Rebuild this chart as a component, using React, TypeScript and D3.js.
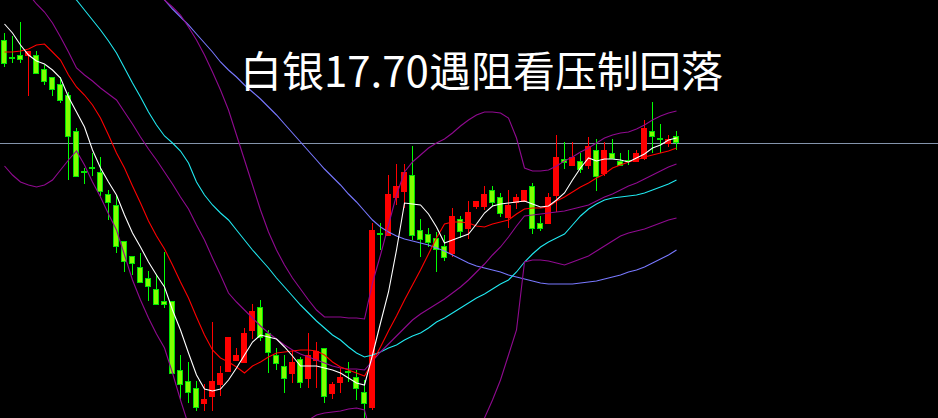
import { useEffect, useRef } from 'react'
import * as d3 from 'd3'

const WIDTH = 938
const HEIGHT = 418
const TITLE = '白银17.70遇阻看压制回落'
const RESISTANCE = 17.7

// daily candles: [open, high, low, close]
const OHLC: [number, number, number, number][] = [
  [18.72, 18.79, 18.45, 18.49], [18.55, 18.76, 18.49, 18.54], [18.57, 18.90, 18.49, 18.53], [18.57, 18.61, 18.16, 18.61],
  [18.57, 18.61, 18.38, 18.39], [18.43, 18.47, 18.27, 18.31], [18.35, 18.35, 18.16, 18.23], [18.28, 18.35, 18.09, 18.12],
  [18.17, 18.20, 17.32, 17.76], [17.81, 17.84, 17.36, 17.36], [17.41, 17.44, 17.28, 17.40], [17.45, 17.59, 17.36, 17.44],
  [17.40, 17.55, 17.16, 17.21], [17.18, 17.22, 16.92, 17.10], [17.07, 17.17, 16.59, 16.66], [16.71, 16.71, 16.40, 16.51],
  [16.56, 16.56, 16.37, 16.49], [16.45, 16.59, 16.30, 16.30], [16.34, 16.41, 16.11, 16.26], [16.23, 16.38, 16.08, 16.08],
  [16.11, 16.60, 16.04, 16.08], [16.11, 16.11, 15.39, 15.39], [15.42, 15.57, 15.13, 15.28], [15.31, 15.50, 15.09, 15.20],
  [15.24, 15.31, 15.01, 15.05], [15.09, 15.28, 15.01, 15.13], [15.16, 15.90, 15.01, 15.31], [15.28, 15.46, 15.16, 15.39],
  [15.41, 15.75, 15.41, 15.75], [15.52, 15.64, 15.52, 15.57], [15.50, 15.84, 15.49, 15.79], [15.82, 16.08, 15.73, 16.01],
  [16.05, 16.12, 15.71, 15.75], [15.79, 15.82, 15.39, 15.60], [15.57, 15.64, 15.42, 15.49], [15.46, 15.57, 15.19, 15.34],
  [15.39, 15.62, 15.29, 15.50], [15.53, 15.55, 15.24, 15.30], [15.34, 15.79, 15.24, 15.57], [15.52, 15.70, 15.24, 15.61],
  [15.64, 15.64, 15.09, 15.16], [15.19, 15.30, 15.13, 15.28], [15.30, 15.44, 15.19, 15.35], [15.41, 15.50, 15.30, 15.40],
  [15.35, 15.42, 15.12, 15.24], [15.20, 15.32, 14.94, 15.09], [15.05, 16.89, 15.02, 16.82], [16.79, 16.89, 16.62, 16.78],
  [16.77, 17.37, 16.77, 17.18], [17.15, 17.48, 17.07, 17.26], [17.21, 17.48, 17.04, 17.40], [17.37, 17.66, 16.72, 16.77],
  [16.82, 16.93, 16.55, 16.73], [16.78, 16.84, 16.65, 16.70], [16.74, 16.80, 16.40, 16.63], [16.66, 16.77, 16.51, 16.55],
  [16.59, 17.04, 16.55, 16.96], [16.93, 16.96, 16.74, 16.81], [16.84, 17.11, 16.73, 17.00], [17.06, 17.11, 17.03, 17.11],
  [17.06, 17.26, 17.02, 17.18], [17.22, 17.26, 17.06, 17.10], [17.15, 17.19, 16.95, 16.99], [16.95, 17.22, 16.84, 17.07],
  [17.10, 17.18, 17.03, 17.15], [17.11, 17.22, 17.11, 17.22], [17.26, 17.29, 16.78, 16.84], [16.89, 16.96, 16.81, 16.84],
  [16.89, 17.19, 16.89, 17.15], [17.17, 17.77, 17.00, 17.55], [17.53, 17.70, 17.43, 17.50], [17.47, 17.70, 17.47, 17.55],
  [17.51, 17.59, 17.39, 17.43], [17.47, 17.75, 17.43, 17.66], [17.62, 17.73, 17.21, 17.36], [17.39, 17.70, 17.36, 17.62],
  [17.59, 17.73, 17.54, 17.54], [17.51, 17.59, 17.47, 17.47], [17.52, 17.62, 17.47, 17.51], [17.51, 17.62, 17.50, 17.59],
  [17.54, 17.92, 17.52, 17.84], [17.81, 18.10, 17.59, 17.76], [17.74, 17.88, 17.59, 17.73], [17.69, 17.77, 17.65, 17.73],
  [17.76, 17.81, 17.62, 17.70],
]

const MA5 = [
  18.88, 18.79, 18.67, 18.57, 18.51, 18.48, 18.42, 18.34, 18.15, 18.00,
  17.85, 17.62, 17.44, 17.30, 17.17, 16.97, 16.79, 16.65, 16.50, 16.37,
  16.25, 16.02, 15.82, 15.59, 15.37, 15.23, 15.21, 15.23, 15.32, 15.44,
  15.57, 15.70, 15.77, 15.75, 15.73, 15.65, 15.56, 15.46, 15.46, 15.46,
  15.44, 15.42, 15.39, 15.34, 15.29, 15.27, 15.57, 15.89, 16.20, 16.62,
  17.09, 17.08, 17.07, 16.98, 16.85, 16.69, 16.72, 16.75, 16.78, 16.88,
  16.99, 17.06, 17.08, 17.09, 17.10, 17.11, 17.08, 17.05, 17.06, 17.12,
  17.19, 17.32, 17.44, 17.54, 17.51, 17.53, 17.53, 17.52, 17.50, 17.54,
  17.58, 17.64, 17.67, 17.72, 17.74,
]

const MA10 = [
  18.60, 18.60, 18.61, 18.63, 18.67, 18.68, 18.60, 18.52, 18.37, 18.25,
  18.17, 18.07, 17.94, 17.77, 17.59, 17.44, 17.26, 17.09, 16.91, 16.76,
  16.63, 16.47, 16.30, 16.14, 15.95, 15.77, 15.62, 15.54, 15.50, 15.45,
  15.39, 15.46, 15.50, 15.55, 15.59, 15.60, 15.61, 15.62, 15.62, 15.61,
  15.57, 15.50, 15.45, 15.42, 15.39, 15.36, 15.50, 15.65, 15.81, 15.96,
  16.12, 16.27, 16.42, 16.58, 16.74, 16.88, 16.90, 16.90, 16.89, 16.86,
  16.85, 16.88, 16.90, 16.92, 16.98, 17.03, 17.04, 17.04, 17.05, 17.11,
  17.15, 17.20, 17.25, 17.29, 17.34, 17.38, 17.44, 17.47, 17.50, 17.52,
  17.55, 17.57, 17.59, 17.61, 17.64,
]

// bollinger middle / upper / lower
const BOLL_MID = [
  19.52, 19.42, 19.30, 19.18, 19.08, 19.00, 18.89, 18.75, 18.60, 18.44,
  18.37, 18.31, 18.24, 18.18, 18.12, 18.00, 17.88, 17.75, 17.63, 17.52,
  17.40, 17.28, 17.15, 17.03, 16.87, 16.72, 16.54, 16.37, 16.19, 16.10,
  16.02, 15.94, 15.86, 15.79, 15.73, 15.67, 15.62, 15.58, 15.55, 15.52,
  15.49, 15.46, 15.44, 15.43, 15.43, 15.42, 15.51, 15.60, 15.68, 15.76,
  15.84, 15.92, 15.98, 16.03, 16.08, 16.13, 16.19, 16.25, 16.32, 16.40,
  16.48, 16.57, 16.65, 16.75, 16.86, 16.96, 16.97, 16.98, 16.99, 17.00,
  17.01, 17.03, 17.05, 17.07, 17.11, 17.15, 17.18, 17.22, 17.26, 17.29,
  17.33, 17.37, 17.41, 17.45, 17.48,
]

const BOLL_UP = [
  null, null, null, null, null, null, null, null, null, null,
  null, null, null, null, null, null, null, 19.42, 19.32, 19.22,
  19.12, 19.05, 18.97, 18.85, 18.72, 18.57, 18.40, 18.22, 18.02, 17.77,
  17.52, 17.27, 17.02, 16.80, 16.62, 16.47, 16.34, 16.23, 16.12, 16.02,
  15.95, 15.95, 15.95, 15.94, 15.94, 15.93, 16.29, 16.57, 16.87, 17.17,
  17.40, 17.50, 17.57, 17.64, 17.69, 17.73, 17.79, 17.86, 17.92, 17.97,
  18.00, 18.00, 17.99, 17.94, 17.74, 17.44, 17.41, 17.41, 17.42, 17.46,
  17.51, 17.55, 17.60, 17.64, 17.69, 17.74, 17.77, 17.79, 17.80, 17.83,
  17.87, 17.92, 17.96, 17.99, 18.01,
]

const BOLL_DN = [
  17.46, 17.37, 17.30, 17.27, 17.25, 17.27, 17.32, 17.42, 17.52, 17.61,
  17.47, 17.30, 17.15, 16.98, 16.82, 16.57, 16.32, 16.12, 15.94, 15.78,
  15.64, 15.39, 15.12, 14.87, 14.67, 14.52, 14.42, 14.37, 14.34, 14.34,
  14.37, 14.42, 14.47, 14.52, 14.62, 14.72, 14.80, 14.87, 14.92, 14.97,
  14.99, 15.00, 15.01, 15.03, 15.04, 15.02, 14.72, 14.52, 14.32, 14.12,
  14.02, 13.97, 13.97, 14.02, 14.12, 14.22, 14.32, 14.47, 14.62, 14.77,
  14.94, 15.12, 15.32, 15.57, 15.82, 16.50, 16.52, 16.52, 16.51, 16.49,
  16.47, 16.50, 16.53, 16.56, 16.61, 16.66, 16.71, 16.76, 16.79, 16.81,
  16.83, 16.86, 16.89, 16.92, 16.94,
]

const MA30 = [
  null, null, null, null, null, null, 19.36, 19.28, 19.20, 19.12,
  19.02, 18.92, 18.82, 18.71, 18.59, 18.44, 18.29, 18.15, 18.00, 17.87,
  17.76, 17.69, 17.61, 17.49, 17.30, 17.17, 17.07, 16.99, 16.92, 16.82,
  16.72, 16.62, 16.53, 16.44, 16.34, 16.25, 16.16, 16.07, 15.99, 15.91,
  15.84, 15.77, 15.72, 15.65, 15.59, 15.55, 15.57, 15.60, 15.64, 15.67,
  15.72, 15.76, 15.79, 15.84, 15.90, 15.94, 15.99, 16.04, 16.09, 16.14,
  16.18, 16.23, 16.28, 16.32, 16.40, 16.50, 16.58, 16.65, 16.70, 16.74,
  16.78, 16.87, 16.96, 17.03, 17.08, 17.12, 17.14, 17.15, 17.16, 17.17,
  17.19, 17.22, 17.25, 17.28, 17.32,
]

const MA60 = [
  null, null, null, null, null, null, null, null, null, null,
  null, null, null, null, null, null, null, 19.37, 19.28, 19.20,
  19.12, 19.03, 18.95, 18.87, 18.78, 18.69, 18.60, 18.50, 18.42, 18.35,
  18.27, 18.20, 18.13, 18.05, 17.97, 17.88, 17.79, 17.70, 17.61, 17.52,
  17.43, 17.35, 17.27, 17.18, 17.10, 17.01, 16.92, 16.85, 16.80, 16.76,
  16.73, 16.71, 16.69, 16.67, 16.64, 16.61, 16.57, 16.53, 16.49, 16.46,
  16.44, 16.42, 16.40, 16.37, 16.35, 16.33, 16.31, 16.29, 16.28, 16.28,
  16.28, 16.28, 16.29, 16.30, 16.31, 16.33, 16.35, 16.37, 16.40, 16.42,
  16.45, 16.49, 16.53, 16.57, 16.62,
]

const LINES: { values: (number | null)[]; color: string }[] = [
  { values: MA60, color: '#7878ff' },
  { values: MA30, color: '#20e8f0' },
  { values: BOLL_UP, color: '#900a90' },
  { values: BOLL_MID, color: '#900a90' },
  { values: BOLL_DN, color: '#900a90' },
  { values: MA10, color: '#ff0000' },
  { values: MA5, color: '#ffffff' },
]

export default function App() {
  const svgRef = useRef<SVGSVGElement>(null)

  useEffect(() => {
    const svgEl = svgRef.current
    if (!svgEl) return
    document.body.style.margin = '0'
    document.body.style.background = '#000'

    const svg = d3.select(svgEl)
    svg.selectAll('*').remove()

    const idx = OHLC.map((_, i) => i)
    const x = d3.scaleBand<number>().domain(idx).range([0, 680]).paddingInner(0.25).paddingOuter(0.125)
    const y = d3.scaleLinear([14.94, 19.12], [HEIGHT, 0])
    const cx = (i: number) => Math.round(x(i)! + x.bandwidth() / 2)

    svg.append('rect').attr('width', WIDTH).attr('height', HEIGHT).attr('fill', '#000')

    // ── resistance line ─────────────────────────────────────────────────────
    const ry = Math.round(y(RESISTANCE)) + 1.5
    svg.append('line')
      .attr('x1', 0).attr('x2', WIDTH).attr('y1', ry).attr('y2', ry)
      .attr('stroke', '#8494ac').attr('stroke-width', 1)

    // ── candles ─────────────────────────────────────────────────────────────
    const g = svg.append('g').attr('shape-rendering', 'crispEdges')
    OHLC.forEach(([o, h, l, c], i) => {
      const up = c > o
      const wick = up ? '#ff0000' : '#00ff00'
      const xc = cx(i) + 0.5
      g.append('line')
        .attr('x1', xc).attr('x2', xc)
        .attr('y1', Math.round(y(h))).attr('y2', Math.round(y(l)))
        .attr('stroke', wick)
      const top = Math.round(y(Math.max(o, c)))
      const bh = Math.max(1, Math.round(y(Math.min(o, c))) - top)
      g.append('rect')
        .attr('x', Math.round(x(i)!) + 0.5).attr('y', top + 0.5)
        .attr('width', x.bandwidth() - 1).attr('height', bh)
        .attr('fill', up ? '#ff0000' : '#80ff00')
        .attr('stroke', up ? '#ff0000' : '#00e600')
    })

    // ── moving averages + bands ─────────────────────────────────────────────
    LINES.forEach(({ values, color }) => {
      svg.append('path')
        .datum(values)
        .attr('d', d3.line<number | null>()
          .defined(v => v != null)
          .x((_, i) => cx(i) + 0.5)
          .y(v => y(v as number)))
        .attr('fill', 'none').attr('stroke', color).attr('stroke-width', 1.1)
    })

    // ── title ───────────────────────────────────────────────────────────────
    svg.append('text')
      .attr('x', 240).attr('y', 87)
      .attr('fill', '#ffffff')
      .attr('font-family', '"Noto Sans CJK SC", "Noto Sans", sans-serif')
      .attr('font-size', 42)
      .text(TITLE)
  }, [])

  return (
    <svg ref={svgRef} width={WIDTH} height={HEIGHT} style={{ display: 'block', background: '#000' }} />
  )
}
